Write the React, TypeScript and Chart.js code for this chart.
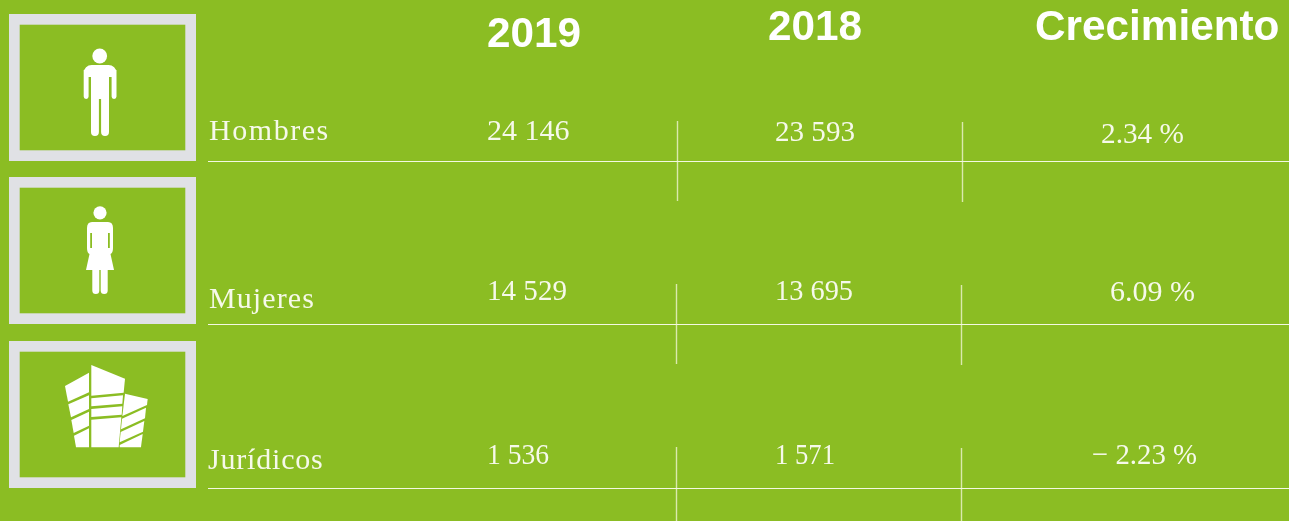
import React, { useEffect, useRef } from "react";
import { Chart, registerables } from "chart.js";

Chart.register(...registerables);

// ---- data ----
const categories = ["Hombres", "Mujeres", "Jurídicos"];
const columns = ["2019", "2018", "Crecimiento"];
const values2019 = ["24 146", "14 529", "1 536"];
const values2018 = ["23 593", "13 695", "1 571"];
const growth = ["2.34 %", "6.09 %", "− 2.23 %"];

// ---- layout (in scale units = page pixels) ----
const W = 1289;
const H = 521;
const BG = "#8bbd23";
const FRAME = "#e0e1e5";
const SERIF = '"Liberation Serif", serif';
const SANS = '"Liberation Sans", Arial, sans-serif';

const headerX = [487, 768, 1035];
const headerY = [47, 40, 40];
const labelX = [209, 209, 208];
const labelY = [140, 308, 469];
const labelSpacing = [1.55, 1.1, 0.8];
const cellX = [
  [487, 487, 487],
  [775, 775, 775],
  [1101, 1110, 1092],
];
const cellY = [
  [140, 300, 464],
  [141, 300, 464],
  [143, 301, 464],
];
const cellMaxW = [
  [83, 80, 62],
  [80, 78, 60],
  [83, 88, 105],
];
const hRuleY = [161.5, 324.5, 488.5];
const vRules = [
  [677.5, 121, 201],
  [962.5, 122, 202],
  [676.5, 284, 364],
  [961.5, 285, 365],
  [676.5, 447, 521],
  [961.5, 448, 521],
];
const frames = [
  [9, 14, 187, 147],
  [9, 177, 187, 147],
  [9, 341, 187, 147],
];
const buildingPolys = [
  [[195,153],[267,113],[267,172],[204,200]],
  [[205,208],[267,181],[267,222],[213,247]],
  [[214,255],[267,230],[267,272],[221,294]],
  [[222,302],[267,280],[267,337],[228,337]],
  [[274,90],[375,131],[371,173],[274,182]],
  [[274,190],[369,181],[367,206],[274,214]],
  [[274,222],[367,214],[365,239],[274,246]],
  [[274,254],[364,247],[356,337],[274,337]],
  [[375,176],[443,192],[441,210],[367,243]],
  [[366,251],[438,218],[435,250],[363,283]],
  [[362,291],[433,258],[429,290],[359,322]],
  [[359,330],[428,297],[423,337],[359,337]],
];

function drawMan(c: CanvasRenderingContext2D) {
  c.beginPath();
  c.arc(99.7, 56, 7.4, 0, Math.PI * 2);
  c.fill();
  c.beginPath();
  c.roundRect(83.7, 65, 32.8, 12, [8, 8, 0, 0]);
  c.roundRect(83.7, 70, 4.9, 29, [0, 0, 2.4, 2.4]);
  c.roundRect(111.6, 70, 4.9, 29, [0, 0, 2.4, 2.4]);
  c.rect(91, 70, 18, 29);
  c.roundRect(91, 95, 7.9, 41, [0, 0, 3.9, 3.9]);
  c.roundRect(101.1, 95, 7.9, 41, [0, 0, 3.9, 3.9]);
  c.fill();
}

function drawWoman(c: CanvasRenderingContext2D) {
  c.beginPath();
  c.arc(100, 212.8, 6.6, 0, Math.PI * 2);
  c.fill();
  c.beginPath();
  c.moveTo(92, 222);
  c.lineTo(108, 222);
  c.quadraticCurveTo(113, 222, 113, 228);
  c.lineTo(113, 248);
  c.quadraticCurveTo(113, 253, 110.5, 254);
  c.lineTo(114, 270);
  c.lineTo(86, 270);
  c.lineTo(89.5, 254);
  c.quadraticCurveTo(87, 253, 87, 248);
  c.lineTo(87, 228);
  c.quadraticCurveTo(87, 222, 92, 222);
  c.closePath();
  c.fill();
  c.beginPath();
  c.roundRect(92.3, 266, 7, 28, [0, 0, 3.5, 3.5]);
  c.roundRect(100.7, 266, 7, 28, [0, 0, 3.5, 3.5]);
  c.fill();
  // gaps between the arms and the torso
  c.fillStyle = BG;
  c.fillRect(90.2, 233, 1.8, 15);
  c.fillRect(108, 233, 1.8, 15);
  c.fillStyle = "#ffffff";
}

function drawBuilding(c: CanvasRenderingContext2D) {
  for (const poly of buildingPolys) {
    c.beginPath();
    poly.forEach(([x, y], i) => {
      const px = x / 3;
      const py = y / 3 + 335;
      if (i === 0) c.moveTo(px, py);
      else c.lineTo(px, py);
    });
    c.closePath();
    c.fill();
  }
}

const tablePlugin = {
  id: "tablePlugin",
  beforeDatasetsDraw(chart: any) {
    const c: CanvasRenderingContext2D = chart.ctx;
    c.save();
    c.fillStyle = BG;
    c.fillRect(0, 0, chart.width, chart.height);
    // icon frames
    for (const [x, y, w, h] of frames) {
      c.strokeStyle = FRAME;
      c.lineWidth = 10.7;
      c.strokeRect(x + 5.35, y + 5.35, w - 10.7, h - 10.7);
    }
    c.fillStyle = "#ffffff";
    drawMan(c);
    drawWoman(c);
    drawBuilding(c);
    c.restore();
  },
  afterDatasetsDraw(chart: any) {
    const c: CanvasRenderingContext2D = chart.ctx as any;
    const xs = chart.scales.x;
    const ys = chart.scales.y;
    c.save();
    c.textBaseline = "alphabetic";
    c.textAlign = "left";
    c.fillStyle = "#ffffff";
    c.font = `bold 42.3px ${SANS}`;
    columns.forEach((t, i) => {
      c.fillText(t, xs.getPixelForValue(headerX[i]), ys.getPixelForValue(headerY[i]));
    });
    c.fillStyle = "#f6f9ea";
    c.font = `30px ${SERIF}`;
    categories.forEach((t, i) => {
      (c as any).letterSpacing = `${labelSpacing[i]}px`;
      c.fillText(t, xs.getPixelForValue(labelX[i]), ys.getPixelForValue(labelY[i]));
    });
    (c as any).letterSpacing = "0px";
    [values2019, values2018, growth].forEach((col, ci) => {
      col.forEach((t, ri) => {
        c.fillText(
          t,
          xs.getPixelForValue(cellX[ci][ri]),
          ys.getPixelForValue(cellY[ci][ri]),
          cellMaxW[ci][ri]
        );
      });
    });
    c.restore();
  },
};

export default function App() {
  const ref = useRef<HTMLCanvasElement | null>(null);
  useEffect(() => {
    if (!ref.current) return;
    const rule = (pts: { x: number; y: number }[], color: string, width: number) => ({
      data: pts,
      showLine: true,
      borderColor: color,
      borderWidth: width,
      pointRadius: 0,
      fill: false,
      tension: 0,
    });
    const datasets = [
      ...hRuleY.map((y) =>
        rule(
          [
            { x: 208, y },
            { x: W, y },
          ],
          "#f3f8e2",
          1.2
        )
      ),
      ...vRules.map(([x, a, b]) =>
        rule(
          [
            { x, y: a },
            { x, y: b },
          ],
          "#dbe9ae",
          1.4
        )
      ),
    ];
    const chart = new Chart(ref.current, {
      type: "scatter",
      data: { datasets },
      options: {
        animation: false,
        responsive: false,
        events: [],
        layout: { padding: 0 },
        plugins: { legend: { display: false }, tooltip: { enabled: false }, title: { display: false } },
        scales: {
          x: { type: "linear", display: false, min: 0, max: W },
          y: { type: "linear", display: false, min: 0, max: H, reverse: true },
        },
      },
      plugins: [tablePlugin],
    } as any);
    return () => chart.destroy();
  }, []);
  return (
    <div style={{ position: "fixed", left: 0, top: 0, width: W, height: H, background: BG }}>
      <canvas ref={ref} width={W} height={H} style={{ display: "block" }} />
    </div>
  );
}
